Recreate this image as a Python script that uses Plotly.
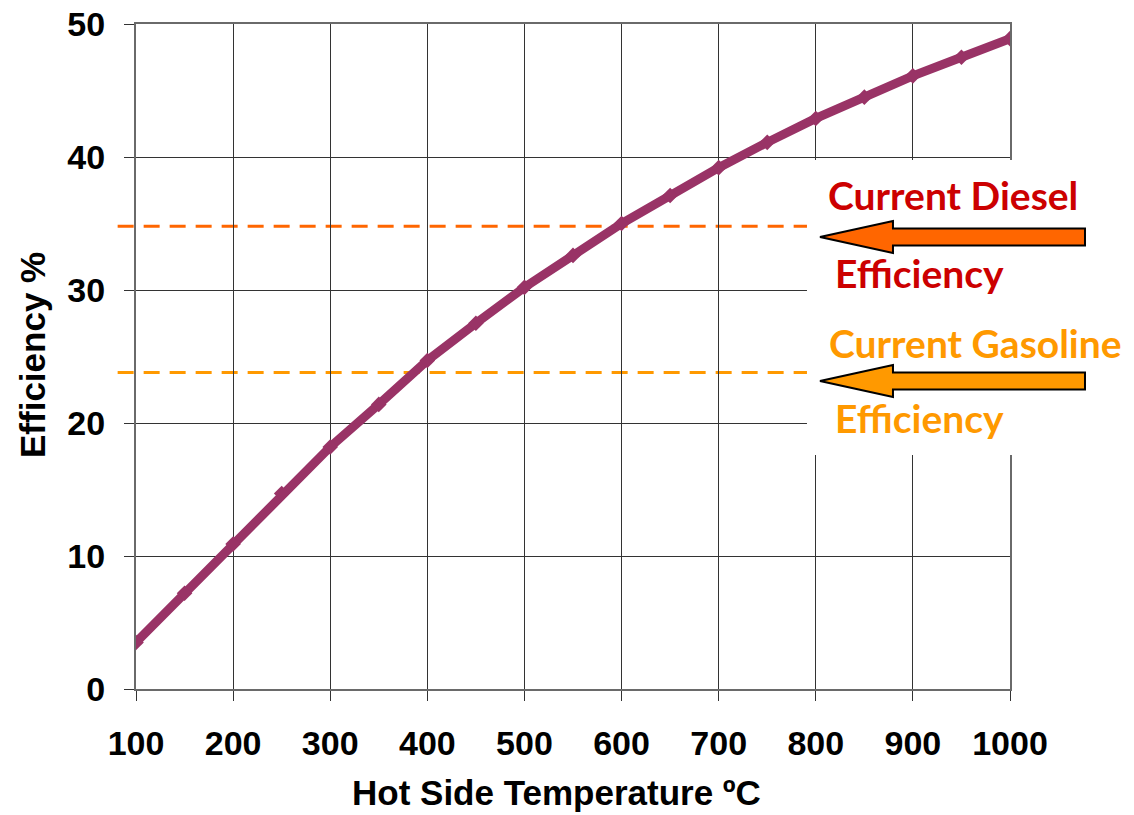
import plotly.graph_objects as go

# Thermal efficiency versus hot-side temperature
temperature_c = [100, 150, 200, 250, 300, 350, 400, 450, 500, 550,
                 600, 650, 700, 750, 800, 850, 900, 950, 1000]
efficiency_pct = [3.5, 7.2, 10.9, 14.7, 18.2, 21.4, 24.7, 27.5, 30.2, 32.6,
                  35.0, 37.1, 39.2, 41.1, 42.9, 44.5, 46.1, 47.5, 48.9]

# Reference efficiencies of current engines
diesel_eff = 34.8
gasoline_eff = 23.8

x_ticks = [100, 200, 300, 400, 500, 600, 700, 800, 900, 1000]
y_ticks = [0, 10, 20, 30, 40, 50]

CURVE = "#993366"
DIESEL_LINE = "#FF6600"
DIESEL_TEXT = "#CC0000"
GASOLINE = "#FF9900"
AXIS_FONT = dict(family="Liberation Sans, Arial, sans-serif", color="black", weight="bold")
LABEL_FONT = "Lato, Carlito, Calibri, sans-serif"

fig = go.Figure()
fig.add_trace(go.Scatter(
    x=temperature_c, y=efficiency_pct, mode="lines+markers",
    line=dict(color=CURVE, width=9),
    marker=dict(symbol="diamond", size=12, color=CURVE),
    showlegend=False, hoverinfo="x+y",
))

shapes = []
# Dashed reference levels (extend slightly left of the y axis)
for level, col in [(diesel_eff, DIESEL_LINE), (gasoline_eff, GASOLINE)]:
    shapes.append(dict(type="line", xref="paper", yref="y",
                       x0=-0.021, x1=0.77, y0=level, y1=level,
                       line=dict(color=col, width=3, dash="16px,10px"),
                       layer="below"))

# White panel behind the callouts
shapes.append(dict(type="rect", xref="paper", yref="paper",
                   x0=0.7677, x1=1.2, y0=0.352, y1=0.7955,
                   fillcolor="white", line=dict(width=0), layer="above"))


def block_arrow(yc, color):
    tip, base, tail = 0.7826, 0.8661, 1.0858
    hh, sh = 0.0241, 0.0128
    path = (f"M {tip},{yc} L {base},{yc + hh} L {base},{yc + sh} "
            f"L {tail},{yc + sh} L {tail},{yc - sh} L {base},{yc - sh} "
            f"L {base},{yc - hh} Z")
    return dict(type="path", xref="paper", yref="paper", path=path,
                fillcolor=color, line=dict(color="black", width=2), layer="above")


shapes.append(block_arrow(0.6797, DIESEL_LINE))
shapes.append(block_arrow(0.4632, GASOLINE))

annotations = []
for txt, x, y, col in [("Current Diesel", 0.9348, 0.7428, DIESEL_TEXT),
                       ("Efficiency", 0.897, 0.626, DIESEL_TEXT),
                       ("Current Gasoline", 0.960, 0.5200, GASOLINE),
                       ("Efficiency", 0.897, 0.4075, GASOLINE)]:
    annotations.append(dict(text=txt, xref="paper", yref="paper", x=x, y=y,
                            xanchor="center", yanchor="middle", showarrow=False,
                            font=dict(family=LABEL_FONT, size=39, color=col, weight="bold")))

# Axis titles
annotations.append(dict(text="Hot Side Temperature ºC", xref="paper", yref="paper",
                        x=(556 - 136) / 874, y=-(814 - 689) / 665,
                        xanchor="center", yanchor="bottom", showarrow=False,
                        font=dict(size=35, **AXIS_FONT)))
annotations.append(dict(text="Efficiency %", xref="paper", yref="paper",
                        x=-(136 - 32) / 874, y=(689 - 355) / 665, textangle=-90,
                        xanchor="center", yanchor="middle", showarrow=False,
                        font=dict(size=35, **AXIS_FONT)))

fig.update_layout(
    width=1134, height=815,
    margin=dict(l=136, r=124, t=24, b=126, autoexpand=False),
    paper_bgcolor="white", plot_bgcolor="white",
    shapes=shapes, annotations=annotations,
    xaxis=dict(
        range=[100, 1000], tickvals=x_ticks, ticktext=[str(v) for v in x_ticks],
        showgrid=True, gridcolor="#333333", gridwidth=1,
        showline=True, linecolor="#6a6a6a", linewidth=2, mirror=True,
        ticks="outside", ticklen=10, tickcolor="#333333", tickwidth=1,
        ticklabelstandoff=13, zeroline=False, automargin=False,
        tickfont=dict(size=34, **AXIS_FONT),
    ),
    yaxis=dict(
        range=[0, 50], tickvals=y_ticks, ticktext=[str(v) for v in y_ticks],
        showgrid=True, gridcolor="#333333", gridwidth=1,
        showline=True, linecolor="#6a6a6a", linewidth=2, mirror=True,
        ticks="outside", ticklen=10, tickcolor="#333333", tickwidth=1,
        ticklabelstandoff=12, zeroline=False, automargin=False,
        tickfont=dict(size=34, **AXIS_FONT),
    ),
)

fig.write_html("out.html")
